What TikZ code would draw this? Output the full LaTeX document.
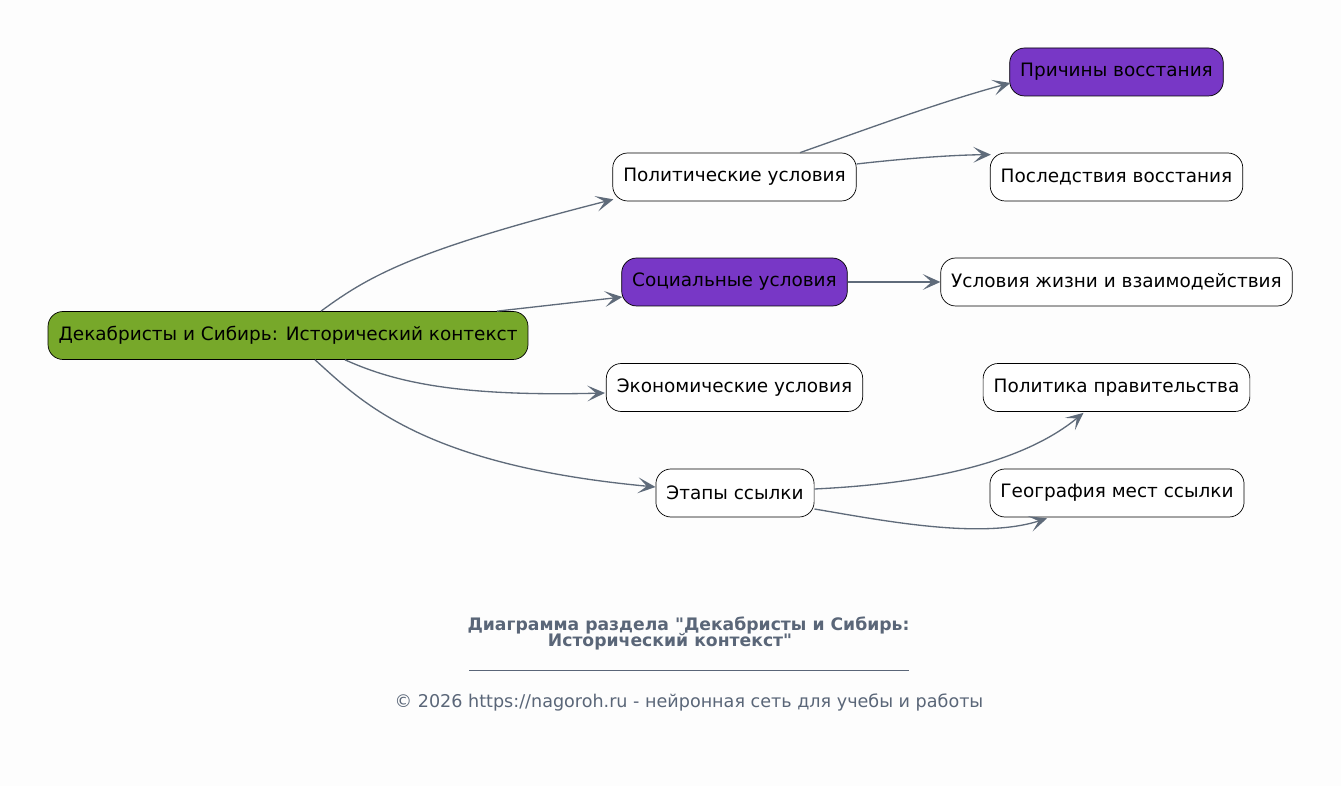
\documentclass[tikz,border=0pt]{standalone}
\usepackage{fontspec}
\setmainfont{DejaVu Sans}[Ligatures=TeXOff]
\usetikzlibrary{arrows.meta,calc}
\definecolor{edgegray}{HTML}{5F6B7A}
\definecolor{titlegray}{HTML}{5A6678}
\definecolor{rootgreen}{HTML}{77A82A}
\definecolor{topicpurple}{HTML}{7837C6}
\definecolor{bgwhite}{HTML}{FDFDFD}
\tikzset{
	topic/.style = {draw=black, fill=white, rounded corners=0.3cm, minimum height=0.96cm,
		inner xsep=0.21cm, font=\fontsize{10.5}{13}\selectfont, text=black},
	rootbox/.style = {topic, fill=rootgreen},
	hotbox/.style = {topic, fill=topicpurple},
	edge/.style = {draw=edgegray, line width=0.75pt, -{Stealth[length=10pt, width=9pt, inset=5pt]}},
	capfont/.style = {text=titlegray, font=\fontsize{9.8}{12}\selectfont\bfseries}
}
\begin{document}
\begin{tikzpicture}[x=0.02cm, y=-0.02cm]
	\fill[bgwhite] (0,0) rectangle (1341,786);
	\useasboundingbox (0,0) rectangle (1341,786);
	
	% nodes
	\node[rootbox] (root) at (288,335.5) {Декабристы и Сибирь: Исторический контекст};
	
	\node[topic] (pol) at (734.5,177) {Политические условия};
	\node[hotbox] (soc) at (734.5,282) {Социальные условия};
	\node[topic] (eco) at (734.5,387.5) {Экономические условия};
	\node[topic] (etap) at (735,493) {Этапы ссылки};
	
	\node[hotbox] (prich) at (1116.5,72) {Причины восстания};
	\node[topic] (posl) at (1116.5,177) {Последствия восстания};
	\node[topic] (uslov) at (1116.5,282) {Условия жизни и взаимодействия};
	\node[topic] (polprav) at (1116.5,387.5) {Политика правительства};
	\node[topic] (geo) at (1117,493) {География мест ссылки};
	
	% edges
	\draw[edge] ($(root.north)+(33,0)$) .. controls (370,275) and (415,250) .. ($(pol.south west)+(1,-2)$);
	\draw[edge] ($(root.north)+(209,0)$) -- ($(soc.west)+(1,15)$);
	\draw[edge] ($(root.south)+(57,0)$) .. controls (390,380) and (450,397) .. ($(eco.west)+(-1,5.5)$);
	\draw[edge] ($(root.south)+(27,0)$) .. controls (360,400) and (420,465) .. ($(etap.west)+(0,-6)$);
	
	\draw[edge] ($(pol.north)+(65.5,0)$) .. controls (870,128) and (940,102) .. ($(prich.west)+(1,11)$);
	\draw[edge] ($(pol.east)+(0,-13)$) .. controls (900,159) and (950,155) .. ($(posl.north west)+(1,2)$);
	\draw[edge] (soc.east) -- (uslov.west);
	\draw[edge] ($(etap.east)+(0,-4)$) .. controls (920,484) and (1020,465) .. ($(polprav.south)+(-33,1)$);
	\draw[edge] ($(etap.east)+(0,16)$) .. controls (880,520) and (980,540) .. ($(geo.south)+(-70,1)$);
	
	% caption
	\node[capfont] (cap1) at (688.5,625) {Диаграмма раздела "Декабристы и Сибирь:};
	\node[capfont] (cap2) at (670,642) {Исторический контекст"};
	\coordinate (ruleL) at (469,670);
	\coordinate (ruleR) at (909,670);
	\draw[titlegray, thin] (ruleL) -- (ruleR);
	\node[text=titlegray, font=\fontsize{10}{12}\selectfont] (foot) at (689,702) {© 2026 https://nagoroh.ru - нейронная сеть для учебы и работы};
\end{tikzpicture}
\end{document}
